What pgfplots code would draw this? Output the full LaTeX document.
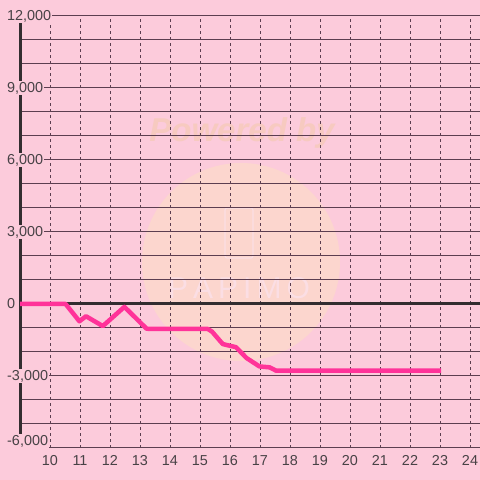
\documentclass[border=0pt]{standalone}
\usepackage{pgfplots}
\pgfplotsset{compat=1.18}
\usepackage{fontspec}
\setmainfont{Liberation Sans}
\definecolor{bg}{RGB}{252,203,219}
\definecolor{gridc}{RGB}{92,62,80}
\definecolor{axc}{RGB}{51,45,48}
\definecolor{txt}{RGB}{72,66,70}
\definecolor{linec}{RGB}{255,51,153}
\definecolor{wm}{RGB}{252,214,206}
\definecolor{wmt}{RGB}{247,202,192}
\definecolor{wml}{RGB}{251,222,228}
\pagecolor{bg}
\begin{document}
\begin{tikzpicture}
\begin{axis}[
  set layers=standard,
  clip=false,
  at={(20pt,32pt)}, anchor=south west,
  scale only axis, width=460pt, height=432pt,
  xmin=9, xmax=24.3333, ymin=-6000, ymax=12000,
  axis background/.style={fill=bg, path picture={
    \fill[wm] ([shift={(221pt,186pt)}]path picture bounding box.south west) circle (99pt);
    \node[text=wmt, font=\fontsize{33}{36}\selectfont\bfseries\itshape] at ([shift={(222pt,315pt)}]path picture bounding box.south west) {Powered by};
    \draw[wml, line width=1.2pt, rounded corners=2pt] ([shift={(205pt,190pt)}]path picture bounding box.south west) rectangle ([shift={(233pt,240pt)}]path picture bounding box.south west);
    \node[text=wml, font=\fontsize{30}{32}\selectfont] at ([shift={(219pt,160pt)}]path picture bounding box.south west) {P\,A\,P\,I\,M\,O};
  }},
  axis y line*=left, axis x line*=bottom,
  x axis line style={draw=none},
  y axis line style={line width=3pt, color=axc, -},
  xtick={10,...,24},
  ytick={-3000,0,3000,6000,9000,12000},
  minor ytick={-6000,-5000,...,12000},
  extra y ticks={-6000},
  extra y tick style={yticklabel style={yshift=7pt}},
  xmajorgrids, ymajorgrids=false, yminorgrids,
  major grid style={gridc, line width=1pt, dash pattern=on 3pt off 3pt},
  minor grid style={gridc, line width=1pt, solid},
  major tick length=0pt, minor tick length=0pt,
  scaled y ticks=false,
  /pgf/number format/.cd, 1000 sep={,}, assume math mode=true,
  /pgfplots/.cd,
  ticklabel style={font=\fontsize{14.4}{16}\selectfont, text=txt},
  yticklabel style={anchor=west, xshift=-14pt, fill=bg, inner sep=1pt},
  xticklabel style={yshift=-4pt},
]
\draw[axc, line width=3pt] (axis cs:9,0) -- (axis cs:24.3333,0);
\addplot[linec, line width=4.5pt, line join=round] coordinates {
(9,0) (10.52,0) (10.98,-720) (11.2,-510) (11.76,-920) (12.48,-120)
(13.22,-1030) (13.5,-1040) (15.26,-1040) (15.4,-1150) (15.76,-1670)
(16.2,-1800) (16.55,-2250) (16.98,-2600) (17.32,-2640) (17.54,-2780) (23.04,-2780)
};
\end{axis}
\pgfresetboundingbox
\useasboundingbox (0,0) rectangle (480pt,480pt);
\end{tikzpicture}
\end{document}
